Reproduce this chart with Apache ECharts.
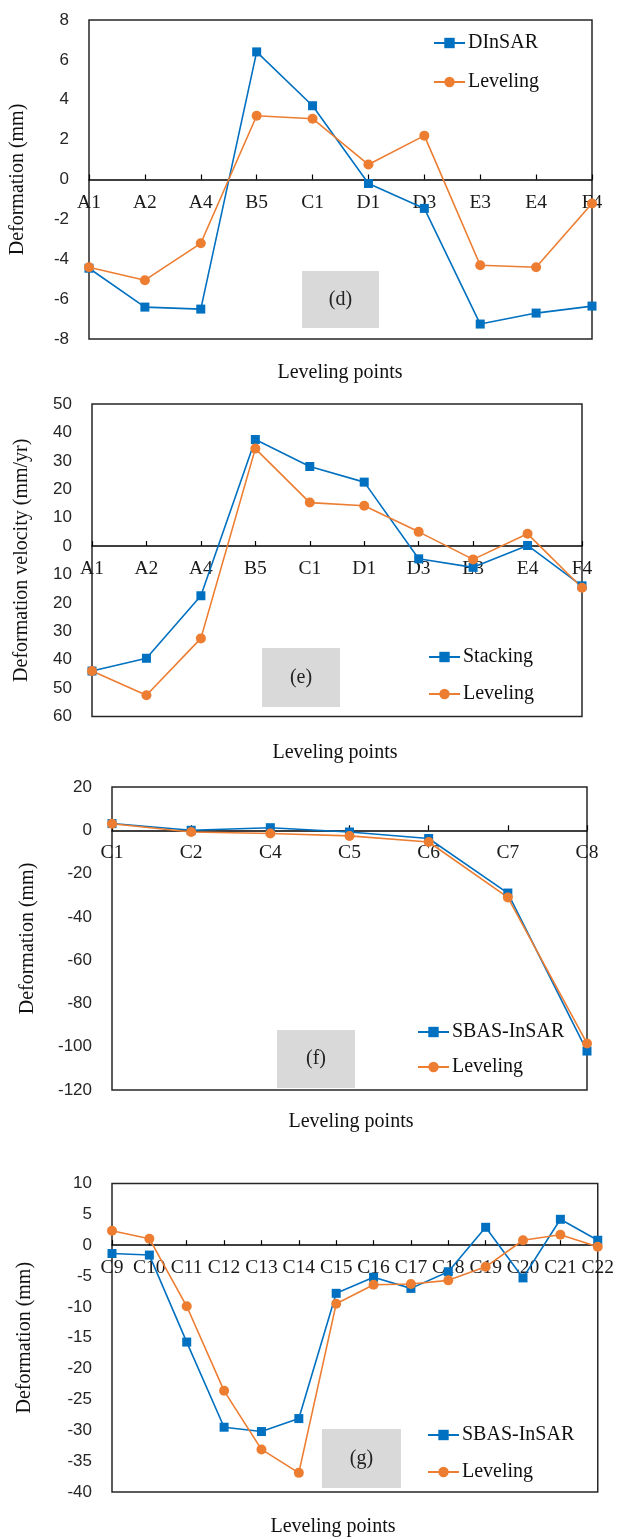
<!DOCTYPE html>
<html>
<head>
<meta charset="utf-8">
<style>
  html, body { margin: 0; padding: 0; background: #ffffff; }
  #chart { width: 617px; height: 1537px; }
</style>
<script src="https://cdn.jsdelivr.net/npm/echarts@6/dist/echarts.min.js"></script>
</head>
<body>
<div id="chart"></div>
<script>
// ---------- data ----------
const catsD = ['A1', 'A2', 'A4', 'B5', 'C1', 'D1', 'D3', 'E3', 'E4', 'F4'];
const dinsarD = [-4.45, -6.4, -6.5, 6.4, 3.7, -0.2, -1.45, -7.25, -6.7, -6.35];
const levelingD = [-4.4, -5.05, -3.2, 3.2, 3.05, 0.75, 2.2, -4.3, -4.4, -1.2];

const catsE = ['A1', 'A2', 'A4', 'B5', 'C1', 'D1', 'D3', 'E3', 'E4', 'F4'];
const stackingE = [-44, -39.5, -17.5, 37.5, 28, 22.5, -4.5, -7.5, 0.2, -14];
const levelingE = [-44, -52.5, -32.5, 34.3, 15.3, 14.2, 5, -4.7, 4.3, -14.7];

const catsF = ['C1', 'C2', 'C4', 'C5', 'C6', 'C7', 'C8'];
const sbasF = [3.1, 0, 1.2, -0.8, -3.8, -29, -102];
const levelingF = [3.0, -0.8, -1.5, -2.6, -5.4, -31, -98.5];

const catsG = ['C9', 'C10', 'C11', 'C12', 'C13', 'C14', 'C15', 'C16', 'C17', 'C18', 'C19', 'C20', 'C21', 'C22'];
const sbasG = [-1.35, -1.6, -15.7, -29.5, -30.2, -28.1, -7.8, -5.2, -7.0, -4.3, 2.9, -5.3, 4.2, 0.8];
const levelingG = [2.35, 1.05, -9.9, -23.6, -33.1, -36.9, -9.5, -6.4, -6.3, -5.7, -3.5, 0.8, 1.7, -0.25];

const yTicksD = { min: -8, max: 8, interval: 2 };
const yTicksE = { min: -60, max: 50, interval: 10 };
const yTicksF = { min: -120, max: 20, interval: 20 };
const yTicksG = { min: -40, max: 10, interval: 5 };

// ---------- styling ----------
const BLUE = '#0070C0';
const ORANGE = '#ED7D31';
const SERIF = '"Liberation Serif", "Times New Roman", serif';
const SANS = '"Liberation Sans", Arial, sans-serif';

const gridBoxes = [
  { left: 88, right: 25, top: 20, height: 319 },
  { left: 92, right: 35, top: 404, height: 312.5 },
  { left: 112, right: 30, top: 787, height: 303 },
  { left: 112, right: 18, top: 1183.5, height: 308.5 }
];
const grids = gridBoxes.map(g => Object.assign({
  show: true, borderColor: '#262626', borderWidth: 1.5, backgroundColor: 'transparent', containLabel: false
}, g));

// the category axis sits on the zero line: shift it up from the grid bottom
function zeroOffset(idx, t) {
  return -gridBoxes[idx].height * (0 - t.min) / (t.max - t.min);
}

function xAxisFor(idx, cats, t) {
  return {
    type: 'category', gridIndex: idx, data: cats, boundaryGap: false,
    position: 'bottom', offset: zeroOffset(idx, t),
    axisLine: { onZero: false, lineStyle: { color: '#000', width: 1.5 } },
    axisTick: { show: true, inside: true, length: 5, alignWithLabel: true, lineStyle: { color: '#000', width: 1.2 } },
    axisLabel: { interval: 0, hideOverlap: false, margin: 13, fontFamily: SERIF, fontSize: 19.5, color: '#1a1a1a' },
    splitLine: { show: false }
  };
}
function yAxisFor(idx, t, name, nameGap, absLabels) {
  return {
    type: 'value', gridIndex: idx, min: t.min, max: t.max, interval: t.interval,
    name: name, nameLocation: 'middle', nameGap: nameGap,
    nameTextStyle: { fontFamily: SERIF, fontSize: 20, color: '#111' },
    axisLine: { show: false }, axisTick: { show: false }, splitLine: { show: false },
    axisLabel: {
      margin: 20, fontFamily: SANS, fontSize: 17, color: '#262626',
      formatter: absLabels ? (v => String(Math.abs(v))) : (v => String(v))
    }
  };
}
function lineSeries(name, idx, data, color, symbol) {
  return {
    name: name, type: 'line', xAxisIndex: idx, yAxisIndex: idx, data: data,
    symbol: symbol, symbolSize: symbol === 'rect' ? 9 : 10,
    itemStyle: { color: color }, lineStyle: { color: color, width: 1.6 },
    emphasis: { disabled: true }, animation: false, z: 3
  };
}
function legendFor(names, left, top, gap) {
  return {
    data: names, orient: 'vertical', left: left, top: top, padding: 0, itemGap: gap,
    itemWidth: 31, itemHeight: 13, selectedMode: false,
    textStyle: { fontFamily: SERIF, fontSize: 20, color: '#111', padding: [0, 0, 0, -2] }
  };
}
function panelLabel(text, x, y, w, h) {
  return [
    { type: 'rect', shape: { x: x, y: y, width: w, height: h }, style: { fill: '#d9d9d9' }, z: 1 },
    { type: 'text', x: x + w / 2, y: y + h / 2, style: { text: text, fontFamily: SERIF, fontSize: 20, fill: '#222', align: 'center', verticalAlign: 'middle' }, z: 2 }
  ];
}
function xName(x, y) {
  return { type: 'text', x: x, y: y, style: { text: 'Leveling points', fontFamily: SERIF, fontSize: 20, fill: '#111', align: 'center', verticalAlign: 'middle' } };
}

const chart = echarts.init(document.getElementById('chart'), null, { renderer: 'canvas' });
chart.setOption({
  backgroundColor: '#ffffff',
  animation: false,
  grid: grids,
  xAxis: [xAxisFor(0, catsD, yTicksD), xAxisFor(1, catsE, yTicksE), xAxisFor(2, catsF, yTicksF), xAxisFor(3, catsG, yTicksG)],
  yAxis: [
    yAxisFor(0, yTicksD, 'Deformation (mm)', 61, false),
    yAxisFor(1, yTicksE, 'Deformation velocity (mm/yr)', 60, true),
    yAxisFor(2, yTicksF, 'Deformation (mm)', 74, false),
    yAxisFor(3, yTicksG, 'Deformation (mm)', 77, false)
  ],
  legend: [
    legendFor(['DInSAR', 'Leveling'], 433, 33, 19),
    legendFor(['Stacking', 'Leveling'], 428, 647, 17),
    legendFor(['SBAS-InSAR', 'Leveling'], 417, 1022, 15),
    legendFor(['SBAS-InSAR', 'Leveling'], 427, 1425, 17)
  ],
  series: [
    lineSeries('DInSAR', 0, dinsarD, BLUE, 'rect'),
    lineSeries('Leveling', 0, levelingD, ORANGE, 'circle'),
    lineSeries('Stacking', 1, stackingE, BLUE, 'rect'),
    lineSeries('Leveling', 1, levelingE, ORANGE, 'circle'),
    lineSeries('SBAS-InSAR', 2, sbasF, BLUE, 'rect'),
    lineSeries('Leveling', 2, levelingF, ORANGE, 'circle'),
    lineSeries('SBAS-InSAR', 3, sbasG, BLUE, 'rect'),
    lineSeries('Leveling', 3, levelingG, ORANGE, 'circle')
  ],
  graphic: [].concat(
    panelLabel('(d)', 302, 271, 77, 57),
    panelLabel('(e)', 262, 648, 78, 59),
    panelLabel('(f)', 277, 1030, 78, 58),
    panelLabel('(g)', 322, 1429, 79, 59),
    [xName(340, 373), xName(335, 753), xName(351, 1122), xName(333, 1527)]
  )
});
</script>
</body>
</html>
